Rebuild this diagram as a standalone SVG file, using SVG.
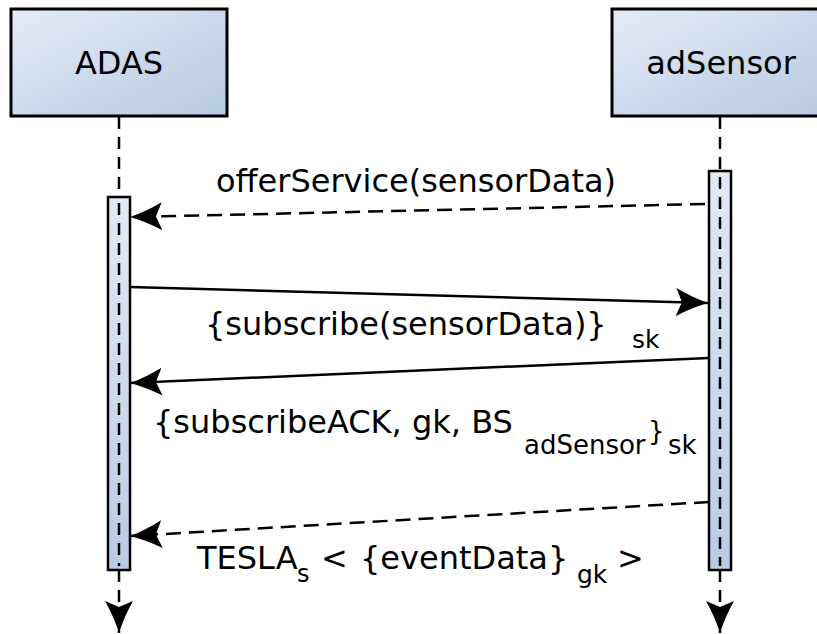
<svg xmlns="http://www.w3.org/2000/svg" width="817" height="634" viewBox="0 0 817 634">
  <defs>
    <linearGradient id="headFill" x1="0" y1="0" x2="1" y2="1">
      <stop offset="0" stop-color="#e6ebf5"/>
      <stop offset="1" stop-color="#b6c9e2"/>
    </linearGradient>
    <linearGradient id="barFill" x1="0" y1="0" x2="0" y2="1">
      <stop offset="0" stop-color="#e3e9f4"/>
      <stop offset="1" stop-color="#b9cbe4"/>
    </linearGradient>
    <marker id="arrow" markerUnits="userSpaceOnUse" markerWidth="40" markerHeight="32" refX="32" refY="14" orient="auto">
      <path d="M32,14 Q16,9 0,0 L6,14 L0,28 Q16,19 32,14 Z" fill="#000"/>
    </marker>
    <style>
      .head { fill: url(#headFill); stroke: #000; stroke-width: 3; }
      .bar { fill: url(#barFill); stroke: #000; stroke-width: 2.5; }
      .life { fill: none; stroke: #000; stroke-width: 2.5; stroke-dasharray: 12 8; }
      .msg { fill: none; stroke: #000; stroke-width: 2.5; marker-end: url(#arrow); }
      .dash { stroke-dasharray: 15 8; }
      text { font-family: "DejaVu Sans", "Liberation Sans", sans-serif; fill: #000; }
      .t { font-size: 32px; }
      .s { font-size: 25px; }
    </style>
  </defs>

  <!-- lifeline: ADAS -->
  <g id="ADAS">
    <rect class="head" x="11" y="9" width="216" height="107"/>
    <text class="t" x="119" y="74" text-anchor="middle">ADAS</text>
    <line class="life" x1="119" y1="117" x2="119" y2="197"/>
    <rect class="bar" x="108" y="197" width="22" height="373"/>
    <line class="life" x1="119" y1="203" x2="119" y2="566"/>
    <line class="life" x1="119" y1="570" x2="119" y2="633" marker-end="url(#arrow)"/>
  </g>

  <!-- lifeline: adSensor -->
  <g id="adSensor">
    <rect class="head" x="612" y="9" width="216" height="107"/>
    <text class="t" x="721" y="74" text-anchor="middle">adSensor</text>
    <line class="life" x1="720" y1="117" x2="720" y2="171"/>
    <rect class="bar" x="709" y="171" width="22" height="399"/>
    <line class="life" x1="720" y1="177" x2="720" y2="566"/>
    <line class="life" x1="720" y1="570" x2="720" y2="633" marker-end="url(#arrow)"/>
  </g>

  <!-- messages -->
  <g id="connectors">
    <line class="msg dash" x1="705" y1="204" x2="130" y2="217"/>
    <line class="msg" x1="130" y1="287" x2="708" y2="303"/>
    <line class="msg" x1="709" y1="358" x2="130" y2="383"/>
    <line class="msg dash" x1="709" y1="502" x2="130" y2="536"/>
  </g>

  <!-- message labels -->
  <g id="labels">
    <text class="t" x="416" y="192" text-anchor="middle">offerService(sensorData)</text>

    <text class="t" x="205" y="335">{subscribe(sensorData)}</text>
    <text class="s" x="632" y="348">sk</text>

    <text class="t" x="153" y="433">{subscribeACK, gk, BS</text>
    <text style="font-size:26px" x="524" y="454">adSensor</text>
    <text style="font-size:26px" x="648" y="440">}</text>
    <text style="font-size:26px" x="668" y="454">sk</text>

    <text class="t" x="197" y="569">TESLA</text>
    <text style="font-size:24px" x="297" y="582">s</text>
    <text class="t" x="321" y="569">&lt;</text>
    <text class="t" x="360" y="569">{eventData}</text>
    <text class="s" x="577" y="583">gk</text>
    <text class="t" x="617" y="569">&gt;</text>
  </g>
</svg>
